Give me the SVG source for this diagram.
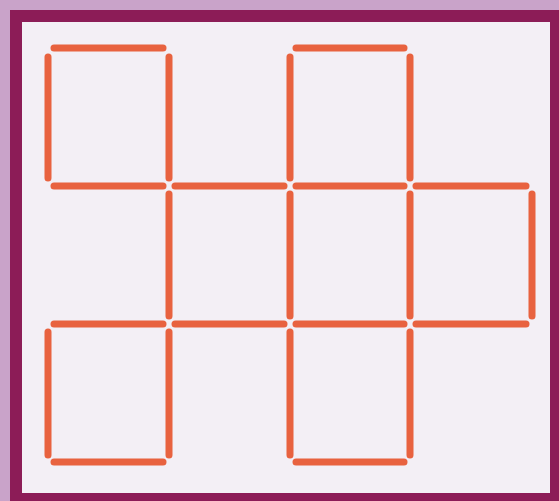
<svg xmlns="http://www.w3.org/2000/svg" width="559" height="501" viewBox="0 0 559 501">
<style>
.m{stroke:#e8623f;stroke-width:7;stroke-linecap:round;fill:none}
</style>
<rect x="0" y="0" width="559" height="501" fill="#c9a3c9"/>
<rect x="10" y="10" width="560" height="510" fill="#8c1c57"/>
<rect x="22" y="22" width="528" height="471" fill="#f3eff5"/>
<g id="connectors">
<g id="row0-h">
<line class="m" x1="54" y1="48" x2="163" y2="48"/>
<line class="m" x1="296" y1="48" x2="404" y2="48"/>
</g>
<g id="row1-h">
<line class="m" x1="54" y1="186" x2="163" y2="186"/>
<line class="m" x1="175" y1="186" x2="284" y2="186"/>
<line class="m" x1="296" y1="186" x2="404" y2="186"/>
<line class="m" x1="416" y1="186" x2="526" y2="186"/>
</g>
<g id="row2-h">
<line class="m" x1="54" y1="324" x2="163" y2="324"/>
<line class="m" x1="175" y1="324" x2="284" y2="324"/>
<line class="m" x1="296" y1="324" x2="404" y2="324"/>
<line class="m" x1="416" y1="324" x2="526" y2="324"/>
</g>
<g id="row3-h">
<line class="m" x1="54" y1="462" x2="163" y2="462"/>
<line class="m" x1="296" y1="462" x2="404" y2="462"/>
</g>
<g id="col-v0">
<line class="m" x1="48" y1="57" x2="48" y2="178"/>
<line class="m" x1="169" y1="57" x2="169" y2="178"/>
<line class="m" x1="290" y1="57" x2="290" y2="178"/>
<line class="m" x1="410" y1="57" x2="410" y2="178"/>
</g>
<g id="col-v1">
<line class="m" x1="169" y1="194" x2="169" y2="316"/>
<line class="m" x1="290" y1="194" x2="290" y2="316"/>
<line class="m" x1="410" y1="194" x2="410" y2="316"/>
<line class="m" x1="532" y1="194" x2="532" y2="316"/>
</g>
<g id="col-v2">
<line class="m" x1="48" y1="332" x2="48" y2="455"/>
<line class="m" x1="169" y1="332" x2="169" y2="455"/>
<line class="m" x1="290" y1="332" x2="290" y2="455"/>
<line class="m" x1="410" y1="332" x2="410" y2="455"/>
</g>
</g>
</svg>
